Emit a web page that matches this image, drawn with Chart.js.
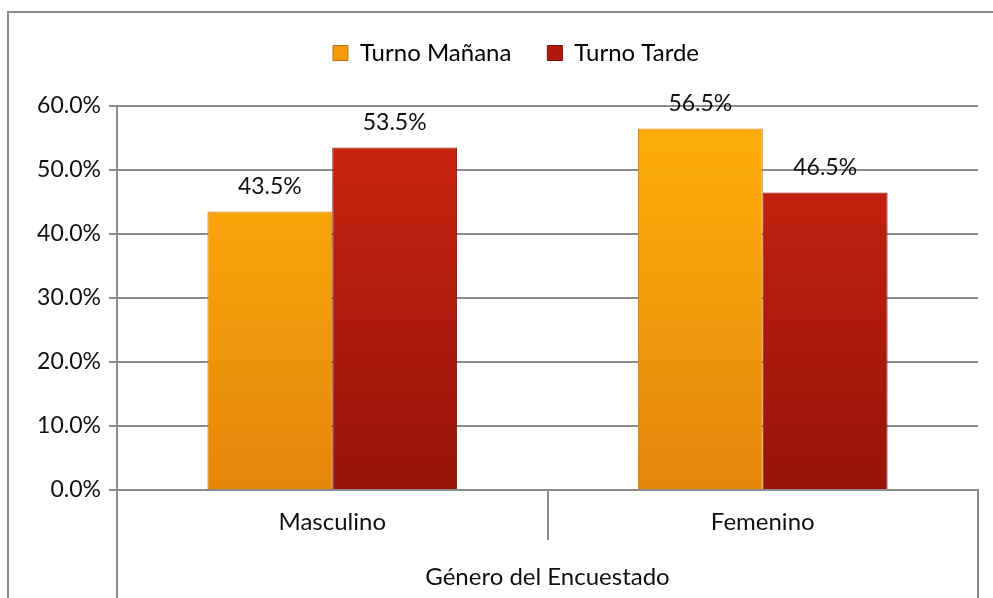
<!DOCTYPE html>
<html>
<head>
<meta charset="utf-8">
<script src="https://cdn.jsdelivr.net/npm/chart.js@4"></script>
<style>
  body { margin: 0; background: #fff; }
  #wrap { position: relative; width: 993px; height: 598px; overflow: hidden; }
  #frame { position: absolute; left: 7px; top: 11px; width: 1100px; height: 700px; border: 2px solid #8c8c8c; }
  canvas { position: absolute; left: 0; top: 0; }
</style>
</head>
<body>
<div id="wrap">
  <div id="frame"></div>
  <canvas id="bar-chart" width="993" height="598"></canvas>
</div>
<script>
const categories = ['Masculino', 'Femenino'];
const seriesNames = ['Turno Mañana', 'Turno Tarde'];
const manana = [43.5, 56.5];
const tarde = [53.5, 46.5];
const yTicks = [0, 10, 20, 30, 40, 50, 60];
const axisTitle = 'Género del Encuestado';

const font = "Lato, 'Open Sans', sans-serif";

function makeGrad(ctx, area, top, bottom) {
    const g = ctx.createLinearGradient(0, area.top, 0, area.bottom);
    g.addColorStop(0, top);
    g.addColorStop(1, bottom);
    return g;
}

function fill(top, bottom) {
    return function(c) {
        const area = c.chart.chartArea;
        if (!area) return top;
        return makeGrad(c.chart.ctx, area, top, bottom);
    };
}

// extra space under the legend, and nudge it right like the original
const legendMargin = {
    id: 'legendMargin',
    beforeInit(chart) {
        const fit = chart.legend.fit;
        chart.legend.fit = function() {
            fit.bind(chart.legend)();
            this.height += 31;
        };
    },
    afterLayout(chart) {
        chart.legend.left += 27;
        chart.legend.right += 27;
    }
};

// value labels above bars
const barLabels = {
    id: 'barLabels',
    afterDatasetsDraw(chart) {
        const ctx = chart.ctx;
        ctx.save();
        ctx.font = '23px ' + font;
        ctx.fillStyle = '#111';
        ctx.textAlign = 'center';
        ctx.textBaseline = 'middle';
        chart.data.datasets.forEach((ds, i) => {
            chart.getDatasetMeta(i).data.forEach((bar, j) => {
                ctx.fillText(ds.data[j].toFixed(1) + '%', bar.x, bar.y - 25);
            });
        });
        ctx.restore();
    }
};

// outer lines of the category axis box
const axisBox = {
    id: 'axisBox',
    afterDraw(chart) {
        const ctx = chart.ctx;
        const a = chart.chartArea;
        ctx.save();
        ctx.strokeStyle = '#8c8c8c';
        ctx.lineWidth = 2;
        ctx.beginPath();
        ctx.moveTo(a.left, a.bottom);
        ctx.lineTo(a.left, chart.height);
        ctx.moveTo(a.right, a.bottom);
        ctx.lineTo(a.right, chart.height);
        ctx.stroke();
        ctx.restore();
    }
};

const ctxBar = document.getElementById('bar-chart').getContext('2d');
const barChart = new Chart(ctxBar, {
    type: 'bar',
    data: {
        labels: categories,
        datasets: [{
            label: seriesNames[0],
            data: manana,
            backgroundColor: fill('#ffb00a', '#e5860c'),
            borderColor: '#c87a10',
            borderWidth: 1,
            categoryPercentage: 0.58,
            barPercentage: 1
        }, {
            label: seriesNames[1],
            data: tarde,
            backgroundColor: fill('#cf2410', '#951408'),
            borderColor: '#7e1208',
            borderWidth: 1,
            categoryPercentage: 0.58,
            barPercentage: 1
        }]
    },
    options: {
        responsive: false,
        animation: false,
        layout: { padding: { top: 5, right: 15, left: 0, bottom: 0 } },
        plugins: {
            legend: {
                position: 'top',
                labels: {
                    font: { family: font, size: 24 },
                    color: '#111',
                    boxWidth: 15,
                    boxHeight: 15,
                    padding: 36,
                    generateLabels(chart) {
                        return chart.data.datasets.map((ds, i) => ({
                            text: ds.label,
                            fillStyle: i === 0 ? '#f59a0c' : '#b01a0c',
                            strokeStyle: i === 0 ? '#b87010' : '#7e1208',
                            lineWidth: 1,
                            datasetIndex: i
                        }));
                    }
                }
            },
            tooltip: { enabled: false }
        },
        scales: {
            x: {
                grid: {
                    offset: true,
                    drawOnChartArea: false,
                    tickLength: 50,
                    color: '#8c8c8c',
                    lineWidth: 2
                },
                border: { color: '#8c8c8c', width: 2 },
                ticks: {
                    font: { family: font, size: 24 },
                    color: '#111',
                    padding: -32
                },
                title: {
                    display: true,
                    text: axisTitle,
                    font: { family: font, size: 24 },
                    color: '#111',
                    padding: { top: 18, bottom: 6 }
                },
                afterFit(scale) { scale.height = 108; }
            },
            y: {
                min: 0,
                max: 60,
                afterBuildTicks(scale) {
                    scale.ticks = yTicks.map(v => ({ value: v }));
                },
                grid: {
                    color: '#8c8c8c',
                    lineWidth: 2,
                    tickLength: 8
                },
                border: { color: '#8c8c8c', width: 2 },
                ticks: {
                    font: { family: font, size: 23 },
                    color: '#111',
                    padding: 8,
                    callback: v => v.toFixed(1) + '%'
                },
                afterFit(scale) { scale.width = 117; }
            }
        }
    },
    plugins: [legendMargin, barLabels, axisBox]
});
</script>
</body>
</html>
